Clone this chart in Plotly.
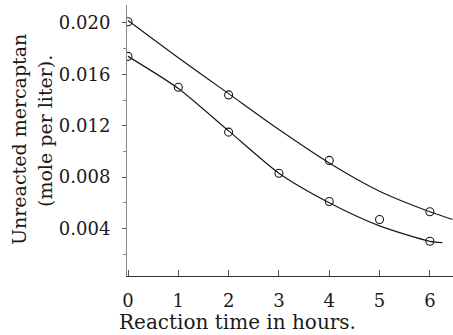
import plotly.graph_objects as go

# Observed points
upper_t = [0, 2, 4, 6]
upper_v = [0.0201, 0.0144, 0.0093, 0.0053]
lower_t = [0, 1, 2, 3, 4, 5, 6]
lower_v = [0.0174, 0.0150, 0.0115, 0.0083, 0.0061, 0.0047, 0.0030]

# Smooth curves
upper_curve_t = [0, 1, 2, 3, 4, 5, 6, 6.45]
upper_curve_v = [0.0202, 0.0173, 0.0145, 0.0117, 0.0091, 0.0069, 0.0053, 0.0047]
lower_curve_t = [0, 1, 2, 3, 4, 5, 6, 6.25]
lower_curve_v = [0.0174, 0.0149, 0.0116, 0.0083, 0.0060, 0.0042, 0.0030, 0.0029]

x_ticks = [0, 1, 2, 3, 4, 5, 6]
y_ticks = [0.004, 0.008, 0.012, 0.016, 0.020]
y_ticklabels = ["0.004", "0.008", "0.012", "0.016", "0.020"]

x_title = "Reaction time in hours."
y_title_1 = "Unreacted mercaptan"
y_title_2 = "(mole per liter)."

FONT = "DejaVu Serif"
INK = "#1a1a1a"

fig = go.Figure()
for ct, cv in [(upper_curve_t, upper_curve_v), (lower_curve_t, lower_curve_v)]:
    fig.add_trace(go.Scatter(x=ct, y=cv, mode="lines",
                             line=dict(color=INK, width=1.2, shape="spline", smoothing=0.7),
                             showlegend=False, hoverinfo="skip"))
for pt, pv in [(upper_t, upper_v), (lower_t, lower_v)]:
    fig.add_trace(go.Scatter(x=pt, y=pv, mode="markers",
                             marker=dict(symbol="circle-open", size=8, color=INK,
                                         line=dict(width=1.1, color=INK)),
                             showlegend=False))

fig.update_layout(
    width=453, height=335,
    margin=dict(l=127, r=0, t=5, b=59, autoexpand=False),
    paper_bgcolor="white", plot_bgcolor="white",
    font=dict(family=FONT, color=INK, size=17),
)
fig.update_xaxes(
    range=[-0.02, 6.46], tickvals=x_ticks, ticktext=[str(v) for v in x_ticks],
    showline=True, linecolor="#333", linewidth=1.2, showgrid=False, zeroline=False,
    ticks="inside", ticklen=6, tickcolor="#555", tickwidth=1,
    ticklabelstandoff=8, automargin=False,
    tickfont=dict(family=FONT, size=18),
)
fig.update_yaxes(
    range=[0.0003, 0.0214], tickvals=y_ticks, ticktext=y_ticklabels,
    showline=True, linecolor="#888", linewidth=1, showgrid=False, zeroline=False,
    ticks="outside", ticklen=4, tickcolor="#555", tickwidth=1,
    minor=dict(tickvals=[0.002, 0.006, 0.010, 0.014, 0.018], ticks="outside", ticklen=3, tickcolor="#888"),
    ticklabelstandoff=8, automargin=False,
    tickfont=dict(family=FONT, size=18),
)

fig.add_annotation(text=x_title, xref="paper", yref="paper", x=(237 - 127) / 326, y=-(322 - 276) / 271,
                   xanchor="center", yanchor="middle", showarrow=False,
                   font=dict(family=FONT, size=20, color=INK))
fig.add_annotation(text=y_title_1, xref="paper", yref="paper", x=-(127 - 19) / 326, y=(276 - 140) / 271,
                   xanchor="center", yanchor="middle", showarrow=False, textangle=-90,
                   font=dict(family=FONT, size=19, color=INK))
fig.add_annotation(text=y_title_2, xref="paper", yref="paper", x=-(127 - 45) / 326, y=(276 - 131) / 271,
                   xanchor="center", yanchor="middle", showarrow=False, textangle=-90,
                   font=dict(family=FONT, size=19, color=INK))

fig.write_html("out.html", config={"displayModeBar": False},
               post_script="document.body.style.margin='0';document.body.style.overflow='hidden';")
